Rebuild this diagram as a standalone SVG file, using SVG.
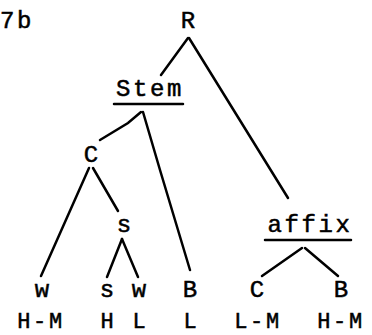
<svg xmlns="http://www.w3.org/2000/svg" width="372" height="335" viewBox="0 0 372 335">
<style>
text{font-family:"Liberation Mono","Courier New",monospace;font-size:24px;fill:#000;text-anchor:middle;stroke:#000;stroke-width:0.5}
.w{letter-spacing:2.6px}
.b{font-size:22px}
line,polyline{stroke:#000;stroke-width:2.5;fill:none;stroke-linecap:round}
</style>
<rect width="372" height="335" fill="#fff"/>
<text x="0" y="28" style="text-anchor:start" class="w">7b</text>
<g id="R"><text x="188" y="28">R</text></g>
<g id="Stem"><text x="150" y="96" class="w">Stem</text><line x1="114" y1="104" x2="183" y2="104"/></g>
<g id="C"><text x="91" y="162">C</text></g>
<g id="s"><text x="124" y="232">s</text></g>
<g id="affix"><text x="310" y="232" class="w">affix</text><line x1="265" y1="240" x2="351" y2="240"/></g>
<g id="leaf-w1"><text x="42" y="297">w</text><text x="41" y="328" class="w b">H-M</text></g>
<g id="leaf-s"><text x="107" y="297">s</text><text x="107" y="328" class="b">H</text></g>
<g id="leaf-w2"><text x="139" y="297">w</text><text x="139" y="328" class="b">L</text></g>
<g id="leaf-B1"><text x="190" y="297">B</text><text x="190" y="328" class="b">L</text></g>
<g id="leaf-C"><text x="257" y="297">C</text><text x="258" y="328" class="w b">L-M</text></g>
<g id="leaf-B2"><text x="341" y="297">B</text><text x="341" y="328" class="w b">H-M</text></g>
<g id="connectors">
<line x1="188" y1="38" x2="161" y2="75"/>
<line x1="189" y1="38" x2="288" y2="198"/>
<polyline points="141,112 128,123 100,140"/>
<polyline points="143,112 160,170 190,270"/>
<line x1="89" y1="168" x2="41" y2="276"/>
<line x1="93" y1="168" x2="118" y2="211"/>
<line x1="122" y1="239" x2="107" y2="277"/>
<line x1="122" y1="239" x2="138" y2="277"/>
<line x1="302" y1="248" x2="262" y2="276"/>
<line x1="305" y1="248" x2="338" y2="276"/>
</g>
</svg>
